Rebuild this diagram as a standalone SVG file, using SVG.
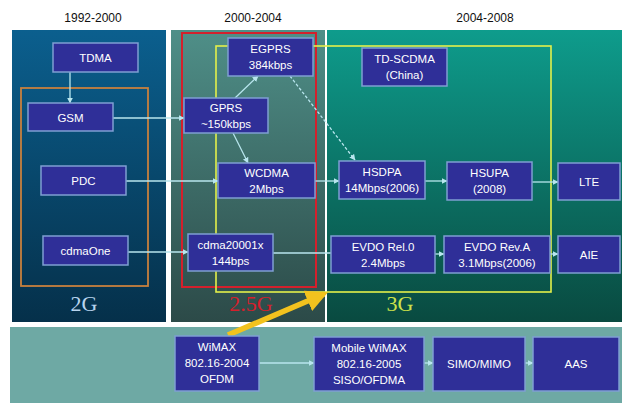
<svg xmlns="http://www.w3.org/2000/svg" width="622" height="403" viewBox="0 0 622 403">
<style>
.hdr{font-family:"Liberation Sans",Arial,sans-serif;font-size:12px;fill:#111;text-anchor:middle}
.box{fill:#2f2f98;stroke:#7f9fd2;stroke-width:1.5}
.t{font-family:"Liberation Sans",Arial,sans-serif;font-size:11.5px;fill:#ffffff;text-anchor:middle}
.c{stroke:#b8e6ee;stroke-width:1.3;fill:none;marker-end:url(#ah)}
.big{font-family:"Liberation Serif","Times New Roman",serif;font-size:22px;text-anchor:middle}
</style>
<defs>
<linearGradient id="g1" x1="0" y1="0" x2="0" y2="1"><stop offset="0" stop-color="#0b5f8e"/><stop offset="1" stop-color="#05304a"/></linearGradient>
<linearGradient id="g2" x1="0" y1="0" x2="0" y2="1"><stop offset="0" stop-color="#4f8f88"/><stop offset="1" stop-color="#2c4a48"/></linearGradient>
<linearGradient id="g3" x1="0" y1="0" x2="0" y2="1"><stop offset="0" stop-color="#0e9c8c"/><stop offset="1" stop-color="#094a40"/></linearGradient>
<marker id="ah" viewBox="0 0 10 10" refX="9" refY="5" markerWidth="6" markerHeight="6" orient="auto" markerUnits="userSpaceOnUse"><path d="M0,0 L10,5 L0,10 z" fill="#b8e6ee"/></marker>
<marker id="yh" viewBox="0 0 10 10" refX="8" refY="5" markerWidth="4" markerHeight="4" orient="auto"><path d="M0,0 L10,5 L0,10 z" fill="#f2c21e"/></marker>
</defs>
<rect width="622" height="403" fill="#ffffff"/>
<g id="headers">
<text class="hdr" x="93" y="22">1992-2000</text>
<text class="hdr" x="253" y="22">2000-2004</text>
<text class="hdr" x="485" y="22">2004-2008</text>
</g>
<g id="panels">
<rect x="12" y="30" width="154" height="292" fill="url(#g1)"/>
<rect x="171" y="30" width="154" height="292" fill="url(#g2)"/>
<rect x="327" y="30" width="295" height="292" fill="url(#g3)"/>
<rect x="10" y="327" width="612" height="76" fill="#6ea9a4"/>
</g>
<g id="frames" fill="none">
<rect x="21" y="88" width="127" height="198" stroke="#c8803e" stroke-width="1.8"/>
<rect x="182" y="33" width="134" height="254" stroke="#d4202c" stroke-width="2"/>
<rect x="216" y="46" width="335" height="246" stroke="#e4f04a" stroke-width="1.6"/>
</g>
<g id="labels">
<text class="big" x="84" y="311" fill="#b8d4ee">2G</text>
<text class="big" x="251" y="311" fill="#d4202c">2.5G</text>
<text class="big" x="400" y="311" fill="#cde24a">3G</text>
</g>
<g id="connectors">
<line class="c" x1="70" y1="72" x2="70" y2="103"/>
<line class="c" x1="113" y1="118" x2="184" y2="118"/>
<line class="c" x1="235" y1="98" x2="258" y2="76"/>
<line class="c" x1="233" y1="133" x2="248" y2="163"/>
<line class="c" x1="126" y1="181" x2="218" y2="181"/>
<line class="c" x1="290" y1="76" x2="355" y2="160" stroke-dasharray="3,2"/>
<line class="c" x1="315" y1="181" x2="339" y2="181"/>
<line class="c" x1="425" y1="181" x2="447" y2="181"/>
<line class="c" x1="532" y1="182" x2="558" y2="182"/>
<line class="c" x1="128" y1="252" x2="188" y2="252"/>
<line x1="273" y1="253" x2="331" y2="253" stroke="#b8e6ee" stroke-width="1.3"/>
<line class="c" x1="435" y1="254" x2="444" y2="254"/>
<line class="c" x1="550" y1="254" x2="558" y2="254"/>
<line class="c" x1="259" y1="363" x2="314" y2="363"/>
<line class="c" x1="424" y1="363" x2="433" y2="363"/>
<line class="c" x1="525" y1="363" x2="533" y2="363"/>
<line x1="228" y1="335" x2="324" y2="294" stroke="#f2c21e" stroke-width="5.5" marker-end="url(#yh)"/>
</g>
<g id="n-tdma"><rect class="box" x="53" y="43" width="85" height="29"/><text class="t" x="95.5" y="62">TDMA</text></g>
<g id="n-gsm"><rect class="box" x="28" y="103" width="85" height="28"/><text class="t" x="70.5" y="121.5">GSM</text></g>
<g id="n-pdc"><rect class="box" x="41" y="166" width="85" height="29"/><text class="t" x="83.5" y="185">PDC</text></g>
<g id="n-cdmaone"><rect class="box" x="43" y="236" width="85" height="29"/><text class="t" x="85.5" y="255">cdmaOne</text></g>
<g id="n-egprs"><rect class="box" x="228" y="38" width="85" height="38"/><text class="t" x="270.5" y="53">EGPRS</text><text class="t" x="270.5" y="69">384kbps</text></g>
<g id="n-gprs"><rect class="box" x="184" y="98" width="84" height="35"/><text class="t" x="226" y="112">GPRS</text><text class="t" x="226" y="128">~150kbps</text></g>
<g id="n-wcdma"><rect class="box" x="218" y="163" width="97" height="35"/><text class="t" x="266.5" y="177">WCDMA</text><text class="t" x="266.5" y="193">2Mbps</text></g>
<g id="n-cdma2000"><rect class="box" x="188" y="234" width="85" height="37"/><text class="t" x="230.5" y="249">cdma20001x</text><text class="t" x="230.5" y="265">144bps</text></g>
<g id="n-tdscdma"><rect class="box" x="362" y="48" width="85" height="38"/><text class="t" x="404.5" y="63">TD-SCDMA</text><text class="t" x="404.5" y="79">(China)</text></g>
<g id="n-hsdpa"><rect class="box" x="339" y="161" width="86" height="38"/><text class="t" x="382" y="176">HSDPA</text><text class="t" x="382" y="192">14Mbps(2006)</text></g>
<g id="n-hsupa"><rect class="box" x="447" y="162" width="85" height="38"/><text class="t" x="489.5" y="177">HSUPA</text><text class="t" x="489.5" y="193">(2008)</text></g>
<g id="n-lte"><rect class="box" x="558" y="163" width="62" height="37"/><text class="t" x="589" y="186">LTE</text></g>
<g id="n-evdo0"><rect class="box" x="331" y="236" width="104" height="37"/><text class="t" x="383" y="251">EVDO Rel.0</text><text class="t" x="383" y="267">2.4Mbps</text></g>
<g id="n-evdoa"><rect class="box" x="444" y="236" width="106" height="37"/><text class="t" x="497" y="251">EVDO Rev.A</text><text class="t" x="497" y="267">3.1Mbps(2006)</text></g>
<g id="n-aie"><rect class="box" x="558" y="236" width="62" height="37"/><text class="t" x="589" y="259">AIE</text></g>
<g id="n-wimax"><rect class="box" x="175" y="336" width="84" height="55"/><text class="t" x="217" y="351">WiMAX</text><text class="t" x="217" y="367">802.16-2004</text><text class="t" x="217" y="383">OFDM</text></g>
<g id="n-mwimax"><rect class="box" x="314" y="337" width="110" height="54"/><text class="t" x="369" y="352">Mobile WiMAX</text><text class="t" x="369" y="368">802.16-2005</text><text class="t" x="369" y="384">SISO/OFDMA</text></g>
<g id="n-simo"><rect class="box" x="433" y="337" width="92" height="54"/><text class="t" x="479" y="368">SIMO/MIMO</text></g>
<g id="n-aas"><rect class="box" x="533" y="337" width="86" height="54"/><text class="t" x="576" y="368">AAS</text></g>
</svg>
